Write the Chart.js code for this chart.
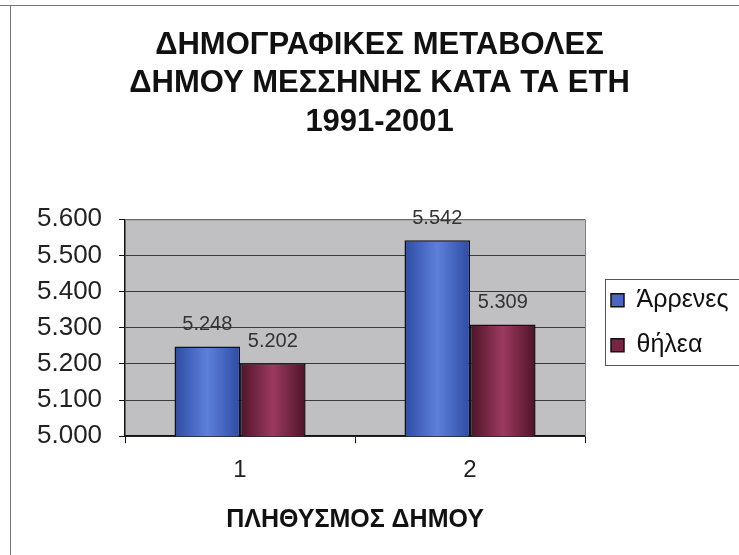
<!DOCTYPE html>
<html>
<head>
<meta charset="utf-8">
<script src="https://cdn.jsdelivr.net/npm/chart.js@4.4.0/dist/chart.umd.min.js"></script>
<style>
  html, body { margin: 0; padding: 0; background: #fff; }
  #wrap { position: relative; width: 739px; height: 555px; overflow: hidden; }
  #frameTop { position: absolute; left: 0; top: 5px; width: 739px; height: 1px; background: #777; }
  #frameLeft { position: absolute; left: 10px; top: 5px; width: 1px; height: 550px; background: #777; }
  canvas { position: absolute; left: 0; top: 0; }
</style>
</head>
<body>
<div id="wrap">
  <div id="frameTop"></div>
  <div id="frameLeft"></div>
  <canvas id="myChart" width="739" height="555"></canvas>
</div>
<script>
var categories = ["1", "2"];
var males = [5248, 5542];
var females = [5202, 5309];
var titleLines = ["ΔΗΜΟΓΡΑΦΙΚΕΣ ΜΕΤΑΒΟΛΕΣ", "ΔΗΜΟΥ ΜΕΣΣΗΝΗΣ ΚΑΤΑ ΤΑ ΕΤΗ", "1991-2001"];
var xTitle = "ΠΛΗΘΥΣΜΟΣ ΔΗΜΟΥ";
var seriesNames = ["Άρρενες", "θήλεα"];

var FONT = "'Liberation Sans', Arial, sans-serif";
var LEGEND_W = 154;

// greek style thousands separator: 5248 -> 5.248
function fmt(v) {
  return String(Math.round(v)).replace(/\B(?=(\d{3})+(?!\d))/g, ".");
}

function barFill(dark, light, side) {
  return function (ctx) {
    var chart = ctx.chart;
    var xs = chart.scales.x;
    if (!xs || !chart.chartArea || ctx.dataIndex === undefined) return dark;
    var c = xs.getPixelForValue(ctx.dataIndex);
    var w = ((xs.right - xs.left) / categories.length) * 0.57 / 2;
    var x0 = side === 0 ? c - w : c;
    var g = chart.ctx.createLinearGradient(x0, 0, x0 + w, 0);
    g.addColorStop(0, dark);
    g.addColorStop(0.5, light);
    g.addColorStop(1, dark);
    return g;
  };
}

function legendShift(chart) {
  var l = chart.legend, a = chart.chartArea;
  return { dx: 6, dy: (a.top + a.bottom) / 2 - 5 - (l.top + l.bottom) / 2 };
}

var plotBg = {
  id: "plotBg",
  afterInit: function (chart) {
    var l = chart.legend;
    if (!l) return;
    var fit = l.fit, draw = l.draw;
    l.fit = function () {
      fit.call(this);
      this.width = LEGEND_W;
    };
    l.draw = function () {
      var s = legendShift(chart), c = chart.ctx;
      c.save();
      c.translate(s.dx, s.dy);
      draw.call(this);
      c.restore();
    };
  },
  beforeDraw: function (chart) {
    var a = chart.chartArea, c = chart.ctx;
    c.save();
    c.fillStyle = "#c0c0c3";
    c.fillRect(a.left, a.top, a.right - a.left, a.bottom - a.top);
    c.restore();
  },
  afterDatasetsDraw: function (chart) {
    var a = chart.chartArea, c = chart.ctx;
    c.save();
    c.strokeStyle = "#808080";
    c.lineWidth = 1;
    c.beginPath();
    c.moveTo(a.left, a.top + 0.5);
    c.lineTo(a.right + 0.5, a.top + 0.5);
    c.lineTo(a.right + 0.5, a.bottom);
    c.stroke();
    c.fillStyle = "#333";
    c.font = "20px " + FONT;
    c.textAlign = "center";
    c.textBaseline = "middle";
    chart.data.datasets.forEach(function (ds, i) {
      chart.getDatasetMeta(i).data.forEach(function (bar, j) {
        c.fillText(fmt(ds.data[j]), bar.x, bar.y - 22);
      });
    });
    c.restore();
  },
  afterDraw: function (chart) {
    var l = chart.legend, c = chart.ctx;
    if (!l || !l.legendHitBoxes || !l.legendHitBoxes.length) return;
    var s = legendShift(chart);
    var hb = l.legendHitBoxes;
    var top = hb[0].top + s.dy - 9;
    var bottom = hb[hb.length - 1].top + hb[hb.length - 1].height + s.dy + 7;
    var left = hb[0].left + s.dx - 6;
    c.save();
    c.strokeStyle = "#555";
    c.lineWidth = 1;
    c.strokeRect(Math.round(left) + 0.5, Math.round(top) + 0.5, 760 - left, bottom - top);
    c.restore();
  }
};

new Chart(document.getElementById("myChart"), {
  type: "bar",
  data: {
    labels: categories,
    datasets: [
      {
        label: seriesNames[0],
        data: males,
        backgroundColor: barFill("#2f4ca3", "#5d7fdb", 0),
        borderColor: "#111",
        borderWidth: 1.5,
        borderSkipped: false,
      },
      {
        label: seriesNames[1],
        data: females,
        backgroundColor: barFill("#4d1428", "#9c3a60", 1),
        borderColor: "#111",
        borderWidth: 1.5,
        borderSkipped: false,
      },
    ],
  },
  plugins: [plotBg],
  options: {
    responsive: false,
    animation: false,
    devicePixelRatio: 1,
    categoryPercentage: 0.57,
    barPercentage: 1,
    layout: { padding: { left: 20, right: 0, top: 0, bottom: 20 } },
    plugins: {
      tooltip: { enabled: false },
      title: {
        display: true,
        text: titleLines,
        color: "#111",
        font: { family: FONT, size: 31, weight: "bold", lineHeight: 1.24 },
        padding: { top: 26, bottom: 78 },
      },
      legend: {
        display: true,
        position: "right",
        labels: {
          color: "#111",
          font: { family: FONT, size: 25 },
          boxWidth: 13,
          boxHeight: 13,
          padding: 20,
          generateLabels: function (chart) {
            var cols = ["#4a66c0", "#7a2444"];
            return chart.data.datasets.map(function (ds, i) {
              return {
                text: ds.label,
                fillStyle: cols[i],
                strokeStyle: "#111",
                lineWidth: 1.5,
                fontColor: "#111",
                datasetIndex: i,
              };
            });
          },
        },
      },
    },
    scales: {
      x: {
        grid: { drawOnChartArea: false, drawTicks: true, tickLength: 7, color: "#111" },
        border: { color: "#111", width: 1.5 },
        ticks: { color: "#222", font: { family: FONT, size: 24 }, padding: 13 },
        title: {
          display: true,
          text: xTitle,
          color: "#111",
          font: { family: FONT, size: 25, weight: "bold" },
          padding: { top: 7, bottom: 0 },
        },
      },
      y: {
        min: 5000,
        max: 5600,
        ticks: {
          stepSize: 100,
          autoSkip: false,
          color: "#222",
          font: { family: FONT, size: 26 },
          padding: 17,
          callback: function (v) { return fmt(v); },
        },
        grid: { color: "#3a3a3a", lineWidth: 1, tickLength: 6, tickColor: "#111" },
        border: { color: "#111", width: 1.5 },
      },
    },
  },
});
</script>
</body>
</html>
